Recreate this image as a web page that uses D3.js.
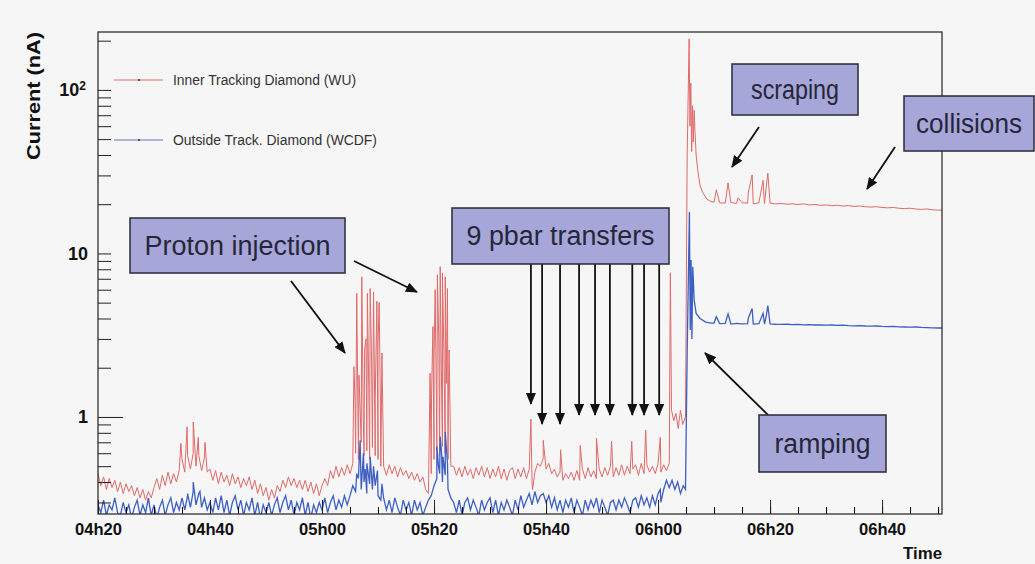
<!DOCTYPE html>
<html>
<head>
<meta charset="utf-8">
<script src="https://cdn.jsdelivr.net/npm/d3@7"></script>
<style>
  body { margin: 0; background: #f6f6f6; }
  svg { display: block; font-family: "Liberation Sans", Arial, sans-serif; }
</style>
</head>
<body>
<svg id="chart" width="1035" height="564"></svg>
<script>
// time is in minutes after 04h20
var STEP = 0.5;
var T_END = 150.7;
var TAIL_START = 110;

var xTickMinutes = [0, 20, 40, 60, 80, 100, 120, 140];
var xTickLabels = ["04h20", "04h40", "05h00", "05h20", "05h40", "06h00", "06h20", "06h40"];
var yDecades = [1, 10, 100];
var yTickLabels = [["1", ""], ["10", ""], ["10", "2"]];

// Inner Tracking Diamond (WU), one value every STEP minutes from 04h20
var redBase = [
    0.45,0.38,0.43,0.36,0.42,0.37,0.41,0.35,0.40,0.34,0.39,
    0.35,0.38,0.33,0.37,0.32,0.36,0.31,0.35,0.32,0.37,
    0.42,0.36,0.44,0.38,0.46,0.39,0.45,0.40,0.47,
    0.55,0.46,0.58,0.48,0.60,0.50,0.58,0.47,0.56,0.46,
    0.48,0.41,0.47,0.39,0.46,0.40,0.44,0.38,0.45,0.39,0.43,0.37,0.42,
    0.38,0.43,0.36,0.41,0.34,0.39,0.33,0.37,0.31,0.36,0.32,
    0.38,0.35,0.41,0.37,0.43,0.38,0.42,0.37,0.41,
    0.36,0.41,0.35,0.40,0.34,0.39,0.33,0.38,
    0.42,0.38,0.47,0.42,0.50,0.43,0.49,0.44,0.51,0.45,
    0.52,0.60,0.55,0.70,0.58,0.62,0.55,0.65,0.58,0.55,0.50,
    0.50,0.44,0.51,0.45,0.50,0.43,0.49,0.44,0.47,0.42,0.46,0.41,0.45,0.40,0.43,
    0.36,0.34,
    0.45,0.55,0.62,0.58,0.66,0.60,0.55,0.50,
    0.50,0.44,0.49,0.43,0.50,0.44,0.48,0.42,0.49,0.44,
    0.50,0.43,0.49,0.42,0.48,0.43,0.50,0.42,0.48,0.41,
    0.47,0.49,0.42,0.48,0.43,0.49,0.42,0.48,
    0.40,0.46,0.52,0.50,0.56,0.48,
    0.52,0.45,0.48,0.43,0.46,0.41,0.45,0.42,0.46,0.41,
    0.47,0.41,0.48,0.42,0.49,0.43,0.47,0.42,0.48,0.43,
    0.49,0.44,0.50,0.43,0.49,0.44,0.51,0.44,0.50,0.45,
    0.48,0.51,0.44,0.52,0.45,0.51,0.46,0.50,0.45,0.52,
    0.46,0.51,
    0.47,0.52
];
var redSpikes = [
    [14.8,0.69],[15.9,0.87],[17.0,0.93],[17.9,0.75],[19.1,0.70],
    [45.7,2.03],[45.9,1.2],[46.2,5.7],[46.6,1.8],[47.1,7.2],[47.35,1.1],[47.6,2.57],[47.85,3.0],
    [48.1,5.7],[48.35,1.5],[48.6,6.1],[48.85,2.2],[49.2,5.8],[49.5,1.3],[49.8,5.1],[50.0,2.8],
    [50.2,5.0],[50.45,1.0],[50.7,2.46],
    [59.3,1.85],[59.55,1.3],[59.8,3.57],[60.0,2.2],[60.2,6.0],[60.4,1.5],[60.6,7.4],[60.85,3.0],
    [61.1,8.3],[61.3,2.0],[61.5,7.6],[61.75,2.6],[62.0,7.2],[62.2,1.6],[62.4,6.1],[62.55,1.2],[62.7,2.57],
    [77.3,0.97],[77.6,0.36],[79.5,0.72],[82.6,0.63],[86.1,0.67],[89.0,0.74],[91.7,0.71],
    [95.3,0.71],[97.8,0.83],[100.4,0.75],
    [110.4,24.5],[112.5,27],[114.3,21.9],[116.1,23.4],[116.8,30.2],[118.75,28],[119.3,25],[119.6,31]
];
var redRamp = [
    [102.2,7.6],[102.4,1.1],[102.8,0.95],[103.2,1.05],[103.6,0.85],[104.0,1.1],[104.4,0.9],[104.9,1.0],
    [105.2,40],[105.55,205],[105.7,60],[105.85,110],[106.0,42],[106.15,80],[106.3,48],[106.45,75],
    [106.6,55],[106.8,40],[107.1,32],[107.5,26],[108.0,23.5],[108.7,21.5],[109.4,20.8]
];
// one value per minute from TAIL_START
var redTail = [
    20.6,20.4,20.3,20.5,20.2,20.4,20.3,20.1,20.4,20.2,20.3,20.1,
    20.2,20.0,20.1,19.9,20.1,19.8,19.9,19.7,19.8,19.6,
    19.7,19.5,19.6,19.4,19.5,19.3,19.2,19.3,19.1,19.0,
    19.1,18.9,18.8,18.9,18.7,18.6,18.7,18.5,18.4
];

// Outside Track. Diamond (WCDF)
var blueBase = [
    0.29,0.26,0.31,0.25,0.29,0.27,0.32,0.26,0.25,0.30,
    0.26,0.29,0.24,0.28,0.31,0.25,0.29,0.26,0.32,0.25,
    0.29,0.24,0.28,0.31,0.25,0.29,0.32,0.26,0.30,0.27,
    0.32,0.27,0.33,0.28,0.35,0.29,0.34,0.28,0.32,0.27,
    0.30,0.26,0.32,0.27,0.33,0.26,0.31,0.25,0.30,0.33,
    0.27,0.31,0.25,0.30,0.27,0.32,0.25,0.30,0.24,0.29,
    0.26,0.30,0.25,0.29,0.32,0.26,0.30,0.33,0.27,0.31,
    0.25,0.30,0.27,0.32,0.25,0.30,0.24,0.29,0.26,0.30,
    0.27,0.32,0.26,0.30,0.33,0.27,0.31,0.28,0.33,0.29,
    0.33,0.38,0.35,0.42,0.36,0.40,0.34,0.39,0.36,0.38,0.33,0.31,
    0.32,0.27,0.31,0.26,0.32,0.28,0.25,0.31,0.27,0.30,
    0.25,0.31,0.27,0.30,0.25,0.28,0.31,
    0.33,0.38,0.42,0.45,0.40,0.44,0.36,0.32,
    0.30,0.26,0.31,0.25,0.30,0.32,0.27,0.31,0.28,0.25,
    0.31,0.27,0.30,0.32,0.26,0.31,0.25,0.30,0.27,0.31,
    0.28,0.25,0.31,0.27,0.33,0.28,0.31,0.34,0.29,0.35,
    0.30,0.33,
    0.34,0.30,0.33,0.28,0.32,0.27,0.31,0.26,0.31,0.28,
    0.32,0.26,0.31,0.28,0.25,0.31,0.27,0.31,0.28,0.32,
    0.26,0.31,0.28,0.25,0.30,0.31,0.27,0.31,0.28,0.32,
    0.29,0.26,0.31,0.32,0.28,0.33,0.29,0.32,0.28,0.33,
    0.29,0.34,0.30,0.36,0.41,0.37
];
var blueSpikes = [
    [16.0,0.34],[17.0,0.40],[18.2,0.35],
    [46.2,0.45],[46.8,0.72],[47.4,0.60],[47.7,0.48],[48.0,0.52],[48.3,0.44],[48.6,0.57],
    [49.2,0.50],[49.9,0.47],[50.7,0.39],
    [60.5,0.66],[60.8,0.50],[61.1,0.76],[61.35,0.60],[61.6,0.57],[62.0,0.81],[62.4,0.52],
    [100.4,0.36],
    [110.4,4.1],[112.5,4.27],[116.1,4.0],[116.8,4.6],[118.75,4.3],[119.3,4.1],[119.6,4.8]
];
var blueRamp = [
    [102.5,0.41],[103.0,0.36],[103.5,0.40],[104.0,0.34],[104.5,0.38],[104.9,0.36],
    [105.2,2.5],[105.6,17.9],[105.75,3.4],[105.9,9.1],[106.05,3.0],[106.2,8.3],
    [106.45,5.2],[106.8,4.3],[107.5,4.0],[108.5,3.8],[109.5,3.75]
];
var blueTail = [
    3.75,3.72,3.74,3.70,3.73,3.71,3.72,3.70,3.72,3.70,3.71,
    3.69,3.68,3.69,3.67,3.68,3.66,3.67,3.65,3.66,3.64,
    3.65,3.63,3.64,3.62,3.61,3.62,3.60,3.59,3.60,3.58,
    3.57,3.58,3.56,3.55,3.54,3.55,3.53,3.52,3.51,3.50
];

// pbar transfer times (minutes) and arrow tip heights (px)
var pbarTimes = [77.3, 79.3, 82.5, 85.9, 88.75, 91.4, 95.4, 97.5, 100.2];
var pbarTipY = [404, 424, 424, 415, 415, 415, 415, 415, 415];

var boxes = [
    {text: "Proton injection", x0: 130, y0: 218, x1: 345, y1: 273, w: 186},
    {text: "9 pbar transfers", x0: 452, y0: 208, x1: 669, y1: 264, w: 188},
    {text: "scraping", x0: 732, y0: 64, x1: 858, y1: 115, w: 88},
    {text: "collisions", x0: 904, y0: 96, x1: 1034, y1: 151, w: 106},
    {text: "ramping", x0: 759, y0: 415, x1: 886, y1: 472, w: 96}
];
var arrows = [
    [291, 281, 345, 353],
    [354, 261, 417, 292],
    [759, 127, 732, 167],
    [895, 147, 867, 189],
    [768, 415, 705, 353]
];

function buildSeries(base, spikes, ramp, tail) {
    var pts = base.map(function (v, i) { return [i * STEP, v]; });
    pts = pts.concat(spikes, ramp, tail.map(function (v, i) { return [TAIL_START + i, v]; }));
    pts.push([T_END, tail[tail.length - 1]]);
    return pts.sort(function (a, b) { return a[0] - b[0]; });
}

var svg = d3.select("#chart"),
    margin = {top: 32, right: 93, bottom: 50, left: 98},
    width = +svg.attr("width") - margin.left - margin.right,
    height = +svg.attr("height") - margin.top - margin.bottom;

svg.append("rect")
    .attr("width", 1035)
    .attr("height", 564)
    .attr("fill", "#f6f6f6");

var g = svg
    .append("g")
    .attr("transform", "translate(" + margin.left + "," + margin.top + ")");

var x = d3.scaleLinear().domain([0, T_END]).range([0, width]);
var y = d3.scaleLog().domain([0.255, 226]).range([height, 0]);

svg.append("defs")
    .append("clipPath")
    .attr("id", "plotclip")
    .append("rect")
    .attr("width", width)
    .attr("height", height);

var marker = svg.select("defs")
    .append("marker")
    .attr("id", "head")
    .attr("viewBox", "0 0 12 10")
    .attr("refX", 11)
    .attr("refY", 5)
    .attr("markerWidth", 12)
    .attr("markerHeight", 10)
    .attr("markerUnits", "userSpaceOnUse")
    .attr("orient", "auto");
marker.append("path").attr("d", "M0,0L12,5L0,10z").attr("fill", "#111");

var line = d3.line()
    .x(function (d) { return x(d[0]); })
    .y(function (d) { return y(d[1]); });

var series = [
    {pts: buildSeries(redBase, redSpikes, redRamp, redTail), color: "#e06a6a", w: 1},
    {pts: buildSeries(blueBase, blueSpikes, blueRamp, blueTail), color: "#3d5fc0", w: 1.3}
];

g.append("g")
    .attr("clip-path", "url(#plotclip)")
    .selectAll("path")
    .data(series)
    .enter()
    .append("path")
    .attr("d", function (d) { return line(d.pts); })
    .attr("fill", "none")
    .attr("stroke", function (d) { return d.color; })
    .attr("stroke-width", function (d) { return d.w; });

// x axis: major + minor ticks pointing inward
g.append("g")
    .attr("transform", "translate(0," + height + ")")
    .call(d3.axisBottom(x).tickValues(d3.range(0, T_END, 5)).tickSize(-7).tickFormat(""))
    .call(function (a) { a.select(".domain").remove(); });

var xAxis = g.append("g")
    .attr("transform", "translate(0," + height + ")")
    .call(d3.axisBottom(x)
        .tickValues(xTickMinutes)
        .tickSize(-14)
        .tickPadding(9)
        .tickFormat(function (d, i) { return xTickLabels[i]; }));
xAxis.select(".domain").remove();
xAxis.selectAll("line").attr("stroke", "#222");
xAxis.selectAll("text")
    .attr("font-size", 17)
    .attr("font-weight", "bold")
    .attr("fill", "#111")
    .attr("textLength", 47)
    .attr("lengthAdjust", "spacingAndGlyphs");

// y axis: log minor ticks
var yMinor = [];
yDecades.concat([0.1]).forEach(function (dec) {
    for (var m = 1; m < 10; m++) {
        var v = dec * m;
        if (v >= 0.255 && v <= 226) yMinor.push(v);
    }
});
var yAxis = g.append("g")
    .call(d3.axisLeft(y)
        .tickValues(yMinor)
        .tickSize(-13)
        .tickFormat(""));
yAxis.select(".domain").remove();
yAxis.selectAll(".tick line")
    .attr("stroke", "#222")
    .attr("x2", function (d) { return d === 1 ? 25 : 13; });

var yLab = g.append("g")
    .selectAll("text")
    .data(yDecades)
    .enter()
    .append("text")
    .attr("x", function (d, i) { return i === 2 ? -12 : -10; })
    .attr("y", function (d) { return y(d); })
    .attr("dy", "0.36em")
    .attr("text-anchor", "end")
    .attr("font-size", 18)
    .attr("font-weight", "bold")
    .attr("fill", "#111");
yLab.append("tspan").text(function (d, i) { return yTickLabels[i][0]; });
yLab.append("tspan")
    .attr("font-size", 12)
    .attr("dy", "-0.55em")
    .text(function (d, i) { return yTickLabels[i][1]; });

// frame
g.append("rect")
    .attr("width", width)
    .attr("height", height)
    .attr("fill", "none")
    .attr("stroke", "#222")
    .attr("stroke-width", 1.2);

// axis titles
svg.append("text")
    .attr("transform", "translate(40,32) rotate(-90)")
    .attr("text-anchor", "end")
    .attr("font-size", 18)
    .attr("font-weight", "bold")
    .attr("fill", "#111")
    .attr("textLength", 128)
    .attr("lengthAdjust", "spacingAndGlyphs")
    .text("Current (nA)");

svg.append("text")
    .attr("x", margin.left + width)
    .attr("y", 559)
    .attr("text-anchor", "end")
    .attr("font-size", 17)
    .attr("font-weight", "bold")
    .attr("fill", "#111")
    .attr("textLength", 39)
    .attr("lengthAdjust", "spacingAndGlyphs")
    .text("Time");

// legend
var legend = svg.append("g")
    .selectAll("g")
    .data([
        {name: "Inner Tracking Diamond (WU)", color: "#e06a6a", w: 183},
        {name: "Outside Track. Diamond (WCDF)", color: "#6672c0", w: 204}
    ])
    .enter()
    .append("g")
    .attr("transform", function (d, i) { return "translate(114," + (80 + i * 60) + ")"; });
legend.append("line")
    .attr("x2", 49)
    .attr("stroke", function (d) { return d.color; })
    .attr("stroke-width", 1.2);
legend.append("circle")
    .attr("cx", 25)
    .attr("r", 1)
    .attr("fill", "#333");
legend.append("text")
    .attr("x", 59)
    .attr("dy", "0.35em")
    .attr("font-size", 14)
    .attr("fill", "#333")
    .attr("textLength", function (d) { return d.w; })
    .attr("lengthAdjust", "spacingAndGlyphs")
    .text(function (d) { return d.name; });

// annotations
var ann = svg.append("g");
ann.selectAll("line.free")
    .data(arrows)
    .enter()
    .append("line")
    .attr("class", "free")
    .attr("x1", function (d) { return d[0]; })
    .attr("y1", function (d) { return d[1]; })
    .attr("x2", function (d) { return d[2]; })
    .attr("y2", function (d) { return d[3]; })
    .attr("stroke", "#111")
    .attr("stroke-width", 1.8)
    .attr("marker-end", "url(#head)");

ann.selectAll("line.pbar")
    .data(pbarTimes)
    .enter()
    .append("line")
    .attr("class", "pbar")
    .attr("x1", function (d) { return margin.left + x(d); })
    .attr("x2", function (d) { return margin.left + x(d); })
    .attr("y1", 264)
    .attr("y2", function (d, i) { return pbarTipY[i]; })
    .attr("stroke", "#111")
    .attr("stroke-width", 1.8)
    .attr("marker-end", "url(#head)");

var box = ann.selectAll("g.box")
    .data(boxes)
    .enter()
    .append("g")
    .attr("class", "box");
box.append("rect")
    .attr("x", function (d) { return d.x0; })
    .attr("y", function (d) { return d.y0; })
    .attr("width", function (d) { return d.x1 - d.x0; })
    .attr("height", function (d) { return d.y1 - d.y0; })
    .attr("fill", "#a6a7d8")
    .attr("stroke", "#2a2a3a")
    .attr("stroke-width", 1.5);
box.append("text")
    .attr("x", function (d) { return (d.x0 + d.x1) / 2; })
    .attr("y", function (d) { return (d.y0 + d.y1) / 2; })
    .attr("dy", "0.35em")
    .attr("text-anchor", "middle")
    .attr("font-size", 27)
    .attr("fill", "#26263a")
    .attr("textLength", function (d) { return d.w; })
    .attr("lengthAdjust", "spacingAndGlyphs")
    .text(function (d) { return d.text; });
</script>
</body>
</html>
